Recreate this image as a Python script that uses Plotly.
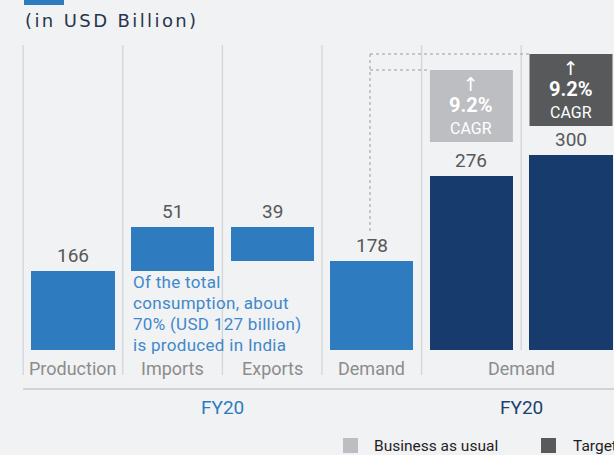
import plotly.graph_objects as go

# ---- data -------------------------------------------------------------
CATEGORIES = ["Production", "Imports", "Exports", "Demand"]
FY20_VALUES = [166, 51, 39, 178]            # USD billion
SCENARIOS = ["Business as usual", "Target"]
SCENARIO_AXIS_LABEL = "Demand"
SCENARIO_VALUES = [276, 300]                # USD billion
SCENARIO_CAGR = [9.2, 9.2]                  # %
PERIOD_LABELS = ["FY20", "FY20"]
UNIT_LABEL = "(in USD Billion)"
NOTE_LINES = ["Of the total", "consumption, about",
              "70% (USD 127 billion)", "is produced in India"]

# ---- styling / geometry ----------------------------------------------
W, H = 614, 455
BG = "#f1f2f4"
MID_BLUE = "#2f7bbf"
NAVY = "#163b6c"
BAU_GREY = "#bdbec1"
TARGET_GREY = "#58595b"
NOTE_BLUE = "#3f88c9"
LABEL_GREY = "#585858"
AXIS_GREY = "#8c8c8c"
RULE_GREY = "#d3d5d8"
FONT = "Roboto"

PLOT_BOTTOM = 350          # pixel row of the axis floor
X0_PX, STEP_PX = 73, 99.6  # centre of first bar and spacing between bars
BAR_W = 0.835
Y_MIN, PX_PER_UNIT = 74.2, 0.862
Y_MAX = Y_MIN + PLOT_BOTTOM / PX_PER_UNIT


def paper_x_of(px):
    return px / W


def paper_y_of(py):
    return (PLOT_BOTTOM - py) / PLOT_BOTTOM


def px_of_index(i):
    return X0_PX + STEP_PX * i


def spaced(text, px):
    return f'<span style="letter-spacing:{px}px">{text}</span>'


# ---- bars (waterfall for FY20, then the two scenarios) -----------------
production, imports, exports, demand = FY20_VALUES
xs = list(range(len(CATEGORIES) + len(SCENARIOS)))
heights = [production, imports, exports, demand] + SCENARIO_VALUES
bases = [0, production, production + imports - exports, 0] + [0] * len(SCENARIOS)
tops = [b + h for b, h in zip(bases, heights)]
value_labels = [production, imports, exports, demand] + SCENARIO_VALUES
colors = [MID_BLUE] * len(CATEGORIES) + [NAVY] * len(SCENARIOS)

fig = go.Figure(
    go.Bar(
        x=xs,
        y=heights,
        base=bases,
        width=BAR_W,
        marker=dict(color=colors, line=dict(width=0)),
        showlegend=False,
        hoverinfo="skip",
    )
)

annotations = []
shapes = []

# value labels above each bar
for x, top, val in zip(xs, tops, value_labels):
    annotations.append(dict(
        x=x, y=top, xref="x", yref="y", text=str(val), showarrow=False,
        yanchor="bottom", yshift=2,
        font=dict(family=FONT, size=19, color=LABEL_GREY),
    ))

# vertical separators between categories
for i in range(len(xs)):
    bottom = 350 if i == len(xs) - 1 else 375
    xp = paper_x_of(px_of_index(i - 0.5))
    shapes.append(dict(
        type="line", xref="paper", yref="paper", x0=xp, x1=xp,
        y0=paper_y_of(bottom), y1=paper_y_of(45),
        line=dict(color=RULE_GREY, width=1.3), layer="below",
    ))

# horizontal rule under the category labels
shapes.append(dict(
    type="line", xref="paper", yref="paper",
    x0=paper_x_of(px_of_index(-0.5)), x1=1.0,
    y0=paper_y_of(389), y1=paper_y_of(389),
    line=dict(color="#c6c8cb", width=1.3),
))

# category labels
for i, name in enumerate(CATEGORIES):
    annotations.append(dict(
        x=i, y=paper_y_of(368), xref="x", yref="paper", text=name,
        showarrow=False, yanchor="middle",
        font=dict(family=FONT, size=18, color=AXIS_GREY),
    ))
annotations.append(dict(
    x=len(CATEGORIES) + 0.5, y=paper_y_of(368), xref="x", yref="paper",
    text=SCENARIO_AXIS_LABEL, showarrow=False, yanchor="middle",
    font=dict(family=FONT, size=18, color=AXIS_GREY),
))

# period labels
for xc, label, col in zip([1.5, len(CATEGORIES) + 0.5], PERIOD_LABELS,
                          [MID_BLUE, "#1e3f70"]):
    annotations.append(dict(
        x=xc, y=paper_y_of(407), xref="x", yref="paper", text=label,
        showarrow=False, yanchor="middle",
        font=dict(family=FONT, size=19, color=col),
    ))

# explanatory note under the imports bar, one line at a time
for k, line in enumerate(NOTE_LINES):
    annotations.append(dict(
        x=paper_x_of(131), y=paper_y_of(282 + 21 * k), xref="paper",
        yref="paper", text=spaced(line, 0.3), showarrow=False,
        xanchor="left", yanchor="middle", align="left",
        font=dict(family=FONT, size=17, color=NOTE_BLUE),
    ))

# CAGR boxes above the scenario bars
box_rows = [(70, 142), (54, 126)]
for k, (cagr, fill, (top_px, bot_px)) in enumerate(
        zip(SCENARIO_CAGR, [BAU_GREY, TARGET_GREY], box_rows)):
    i = len(CATEGORIES) + k
    cx = px_of_index(i)
    shapes.append(dict(
        type="rect", xref="paper", yref="paper",
        x0=paper_x_of(cx - 41.5), x1=paper_x_of(cx + 41.5),
        y0=paper_y_of(bot_px), y1=paper_y_of(top_px),
        fillcolor=fill, line=dict(width=0),
    ))
    block = (
        '<span style="font-family:DejaVu Sans;font-size:19px">↑</span><br>'
        f'<span style="font-size:20px;font-weight:bold">{cagr}%</span><br>'
        '<span style="font-size:16px">CAGR</span>'
    )
    annotations.append(dict(
        x=i, y=paper_y_of(top_px + 35), xref="x", yref="paper",
        text=block, showarrow=False, yanchor="middle", align="center",
        font=dict(family=FONT, size=16.5, color="#ffffff"),
    ))

# dotted connector from FY20 demand to the scenario boxes
dot = dict(color="#9c9c9c", width=1, dash="dot")
shapes += [
    dict(type="line", xref="paper", yref="paper",
         x0=paper_x_of(370), x1=paper_x_of(370),
         y0=paper_y_of(231), y1=paper_y_of(54), line=dot),
    dict(type="line", xref="paper", yref="paper",
         x0=paper_x_of(370), x1=paper_x_of(530),
         y0=paper_y_of(54), y1=paper_y_of(54), line=dot),
    dict(type="line", xref="paper", yref="paper",
         x0=paper_x_of(370), x1=paper_x_of(430),
         y0=paper_y_of(70), y1=paper_y_of(70), line=dot),
]

# unit label and the blue key stub at the top
shapes.append(dict(
    type="rect", xref="paper", yref="paper",
    x0=paper_x_of(24), x1=paper_x_of(64), y0=paper_y_of(5), y1=paper_y_of(-2),
    fillcolor=MID_BLUE, line=dict(width=0),
))
annotations.append(dict(
    x=paper_x_of(23), y=paper_y_of(20), xref="paper", yref="paper",
    text=spaced(UNIT_LABEL, 2.4),
    showarrow=False, xanchor="left", yanchor="middle",
    font=dict(family="DejaVu Sans", size=18, color="#26364a"),
))

# scenario key at the bottom
for name, fill, sq_px, txt_px in zip(SCENARIOS, [BAU_GREY, TARGET_GREY],
                                     [343, 541], [372, 571]):
    shapes.append(dict(
        type="rect", xref="paper", yref="paper",
        x0=paper_x_of(sq_px), x1=paper_x_of(sq_px + 15),
        y0=paper_y_of(453), y1=paper_y_of(438),
        fillcolor=fill, line=dict(width=0),
    ))
    annotations.append(dict(
        x=paper_x_of(txt_px), y=paper_y_of(446), xref="paper", yref="paper",
        text=name, showarrow=False, xanchor="left", yanchor="middle",
        font=dict(family=FONT, size=15.5, color="#1e1e1e"),
    ))

fig.update_layout(
    width=W, height=H,
    margin=dict(l=0, r=0, t=0, b=H - PLOT_BOTTOM, pad=0),
    paper_bgcolor=BG, plot_bgcolor=BG,
    xaxis=dict(range=[-X0_PX / STEP_PX, (W - X0_PX) / STEP_PX],
               visible=False, fixedrange=True),
    yaxis=dict(range=[Y_MIN, Y_MAX], visible=False, fixedrange=True),
    bargap=0,
    shapes=shapes,
    annotations=annotations,
    showlegend=False,
)

fig.write_html("out.html", config={"displayModeBar": False})
